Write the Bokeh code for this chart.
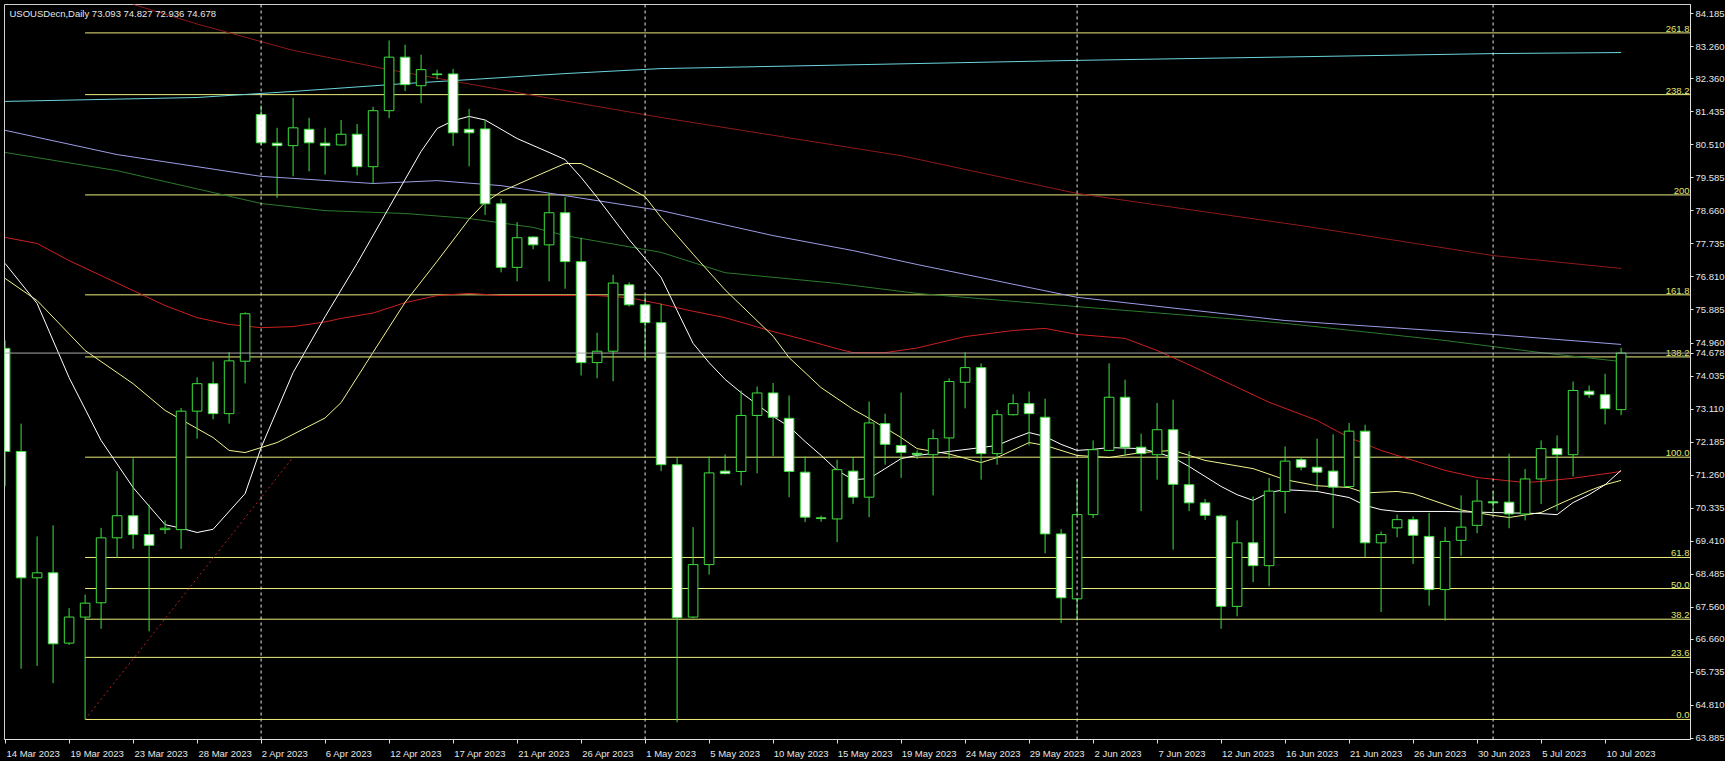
from bokeh.plotting import figure
from bokeh.models import FixedTicker, Span, NumeralTickFormatter, Range1d
from bokeh.embed import file_html
from bokeh.resources import INLINE
from bokeh.core.properties import value

# ---------------- data ----------------
tick_bars = [0, 4, 8, 12, 16, 20, 24, 28, 32, 36, 40, 44, 48, 52, 56, 60, 64, 68, 72, 76, 80, 84, 88, 92, 96, 100]
tick_labels = ["14 Mar 2023", "19 Mar 2023", "23 Mar 2023", "28 Mar 2023", "2 Apr 2023", "6 Apr 2023",
               "12 Apr 2023", "17 Apr 2023", "21 Apr 2023", "26 Apr 2023", "1 May 2023", "5 May 2023",
               "10 May 2023", "15 May 2023", "19 May 2023", "24 May 2023", "29 May 2023", "2 Jun 2023",
               "7 Jun 2023", "12 Jun 2023", "16 Jun 2023", "21 Jun 2023", "26 Jun 2023", "30 Jun 2023",
               "5 Jul 2023", "10 Jul 2023"]
month_separator_bars = [16, 40, 67, 93]

opens = [74.81, 71.92, 68.38, 68.52, 66.55, 67.28, 67.68, 69.50, 70.12, 69.59,
         69.73, 69.73, 73.05, 73.82, 72.98, 74.45, 81.36, 80.56, 80.49, 80.95,
         80.56, 80.51, 80.81, 79.90, 81.47, 82.97, 82.17, 82.50, 82.50, 80.95,
         80.96, 78.86, 77.08, 77.93, 77.71, 78.61, 77.24, 74.41, 74.73, 76.59,
         76.03, 75.53, 71.55, 67.28, 68.75, 71.37, 71.36, 72.93, 73.56, 72.85,
         71.34, 70.06, 70.03, 71.37, 70.64, 72.70, 72.09, 71.87, 71.83, 72.30,
         73.86, 74.27, 71.86, 72.95, 73.26, 72.88, 69.61, 67.79, 70.15, 71.95,
         73.44, 72.04, 71.83, 72.53, 70.99, 70.48, 70.11, 67.58, 69.36, 68.72,
         70.80, 71.69, 71.48, 71.37, 70.94, 72.49, 69.36, 69.78, 70.01, 69.54,
         68.05, 69.43, 69.85, 70.51, 70.50, 70.17, 71.15, 72.00, 71.83, 73.61,
         73.51, 73.093]
highs = [75.03, 72.70, 69.54, 69.85, 67.53, 67.91, 69.78, 71.37, 71.73, 70.43,
         69.99, 73.14, 74.00, 74.44, 74.70, 75.82, 81.62, 80.99, 81.83, 81.27,
         80.99, 81.21, 81.10, 81.58, 83.44, 83.32, 83.04, 82.62, 82.64, 81.52,
         81.21, 79.00, 78.35, 77.95, 79.16, 79.05, 77.91, 75.25, 76.87, 76.66,
         76.29, 76.06, 71.74, 69.80, 71.78, 71.84, 73.63, 73.74, 73.84, 73.49,
         71.78, 70.12, 71.69, 71.76, 73.32, 72.98, 73.57, 71.95, 72.54, 73.97,
         74.70, 74.39, 73.09, 73.52, 73.60, 73.40, 69.75, 71.15, 72.23, 74.39,
         73.93, 72.42, 73.28, 73.37, 71.93, 70.59, 70.15, 69.99, 70.66, 71.18,
         72.06, 71.76, 72.28, 72.40, 72.72, 72.67, 69.68, 70.15, 70.10, 70.20,
         69.80, 70.69, 71.13, 70.81, 71.86, 71.43, 72.23, 72.37, 73.88, 73.77,
         74.10, 74.827]
lows = [70.95, 65.83, 65.91, 65.43, 66.50, 64.41, 66.95, 68.94, 69.19, 66.88,
        69.61, 69.19, 72.28, 72.82, 72.70, 73.83, 80.50, 79.03, 79.63, 79.77,
        79.68, 80.49, 79.66, 79.42, 81.26, 82.02, 81.68, 82.35, 80.48, 79.91,
        78.55, 76.94, 76.69, 77.59, 76.69, 76.48, 74.05, 73.97, 73.89, 75.98,
        74.47, 71.37, 64.33, 67.25, 68.47, 71.28, 70.97, 71.31, 71.79, 70.64,
        69.94, 69.95, 69.38, 70.45, 70.08, 71.55, 71.18, 71.71, 70.69, 71.71,
        73.13, 71.13, 71.55, 72.93, 72.09, 69.07, 67.11, 67.18, 70.06, 71.93,
        71.81, 70.25, 71.13, 69.17, 70.25, 70.00, 66.95, 67.30, 68.26, 68.14,
        70.19, 71.39, 70.83, 69.77, 70.90, 68.96, 67.42, 69.52, 68.77, 67.60,
        67.18, 69.00, 69.63, 70.17, 69.77, 69.99, 70.45, 70.27, 71.22, 73.42,
        72.68, 72.936]
closes = [71.92, 68.38, 68.52, 66.53, 67.28, 67.67, 69.50, 70.12, 69.59, 69.29,
          69.77, 73.05, 73.82, 72.98, 74.46, 75.78, 80.57, 80.49, 80.99, 80.57,
          80.49, 80.81, 79.90, 81.47, 82.97, 82.20, 82.62, 82.48, 80.85, 80.85,
          78.86, 77.08, 77.91, 77.71, 78.61, 77.24, 74.41, 74.73, 76.64, 76.03,
          75.53, 71.55, 67.26, 68.75, 71.32, 71.30, 72.93, 73.56, 72.88, 71.36,
          70.08, 70.04, 71.41, 70.64, 72.72, 72.12, 71.89, 71.83, 72.28, 73.88,
          74.27, 71.86, 72.95, 73.26, 72.98, 69.61, 67.82, 70.15, 71.97, 73.44,
          72.04, 71.86, 72.53, 71.00, 70.48, 70.13, 67.58, 69.36, 68.72, 70.81,
          71.65, 71.48, 71.34, 70.92, 72.49, 69.36, 69.59, 70.01, 69.57, 68.05,
          69.40, 69.80, 70.53, 70.48, 70.17, 71.15, 72.00, 71.83, 73.63, 73.51,
          73.12, 74.678]

ma_white_bars = [0, 2, 4, 6, 8, 10, 11, 12, 13, 15, 16, 18, 20, 22, 24, 26, 27, 28, 29, 30, 32, 34, 35, 36,
                 37, 38, 39, 40, 41, 42, 43, 44, 45, 46, 47, 48, 49, 50, 51, 52, 53, 54, 55, 56, 57, 59,
                 61, 62, 63, 64, 65, 66, 67, 68, 69, 71, 72, 73, 74, 75, 76, 77, 78, 79, 80, 82, 84, 85,
                 86, 87, 90, 93, 96, 97, 98, 99, 100, 101]
ma_white = [77.19, 76.07, 73.99, 72.23, 70.91, 69.87, 69.77, 69.65, 69.74, 70.74, 72.03, 74.13, 75.70,
            77.19, 78.76, 80.33, 80.97, 81.19, 81.31, 81.21, 80.69, 80.30, 80.10, 79.60, 79.04, 78.45,
            77.86, 77.33, 76.80, 75.87, 74.95, 74.41, 73.94, 73.57, 73.24, 72.90, 72.62, 72.20, 71.81,
            71.39, 71.13, 71.16, 71.44, 71.72, 71.81, 71.92, 72.03, 72.09, 72.28, 72.45, 72.34, 72.12,
            71.95, 71.98, 72.03, 72.00, 71.89, 71.75, 71.50, 71.22, 70.94, 70.71, 70.55, 70.77, 70.85,
            70.80, 70.63, 70.41, 70.29, 70.24, 70.24, 70.21, 70.18, 70.15, 70.49, 70.71, 70.99, 71.39]

ma_yellow_bars = [0, 2, 5, 8, 10, 13, 14, 15, 17, 18, 20, 21, 23, 25, 27, 29, 30, 31, 33, 35, 36, 38, 40,
                  41, 43, 45, 48, 49, 51, 53, 54, 55, 56, 57, 59, 61, 62, 64, 65, 67, 69, 71, 73, 75, 78,
                  80, 82, 84, 85, 87, 88, 91, 93, 94, 96, 97, 99, 100, 101]
ma_yellow = [76.77, 76.15, 74.75, 73.82, 73.07, 72.31, 71.95, 71.89, 72.17, 72.40, 72.86, 73.29, 74.70,
             76.10, 77.25, 78.43, 78.90, 79.20, 79.60, 79.99, 79.99, 79.55, 79.06, 78.48, 77.45, 76.45,
             75.15, 74.55, 73.71, 73.10, 72.85, 72.58, 72.31, 72.00, 71.85, 71.61, 71.75, 72.17, 72.09,
             71.81, 71.75, 71.89, 71.95, 71.67, 71.44, 71.13, 70.96, 70.91, 70.76, 70.80, 70.74, 70.28,
             70.13, 70.07, 70.21, 70.42, 70.82, 70.99, 71.11]

ma_red_bars = [0, 2, 4, 6, 8, 10, 12, 14, 16, 18, 20, 21, 23, 25, 27, 29, 31, 34, 37, 39, 41, 43, 45, 48,
               50, 52, 53, 55, 57, 60, 63, 65, 67, 70, 72, 74, 77, 79, 82, 84, 86, 88, 90, 92, 95, 96,
               98, 101]
ma_red = [77.92, 77.75, 77.27, 76.85, 76.43, 76.01, 75.67, 75.48, 75.39, 75.42, 75.55, 75.65, 75.80,
          76.09, 76.29, 76.35, 76.29, 76.29, 76.29, 76.23, 76.05, 75.85, 75.67, 75.28, 75.05, 74.80,
          74.69, 74.69, 74.82, 75.14, 75.31, 75.37, 75.20, 75.09, 74.75, 74.35, 73.72, 73.30, 72.79,
          72.31, 71.95, 71.67, 71.39, 71.19, 71.05, 71.08, 71.17, 71.36]

ma_darkred_bars = [8, 12, 18, 24, 33, 41, 56, 67, 81, 93, 101]
ma_darkred = [84.45, 83.90, 83.16, 82.62, 81.90, 81.28, 80.21, 79.15, 78.25, 77.41, 77.05]

ma_lavender_bars = [0, 7, 16, 23, 27, 31, 35, 41, 48, 53, 57, 67, 80, 93, 101]
ma_lavender = [80.92, 80.24, 79.63, 79.43, 79.51, 79.37, 79.09, 78.67, 77.97, 77.55, 77.16, 76.24,
               75.59, 75.20, 74.92]

ma_green_bars = [0, 7, 16, 20, 25, 29, 33, 35, 41, 45, 52, 57, 67, 78, 80, 90, 96, 101]
ma_green = [80.30, 79.79, 78.87, 78.67, 78.59, 78.45, 78.20, 77.97, 77.50, 76.93, 76.63, 76.35, 75.98,
            75.59, 75.51, 75.03, 74.69, 74.44]

ma_cyan_bars = [0, 12, 18, 25, 29, 35, 41, 67, 93, 101]
ma_cyan = [81.73, 81.84, 82.01, 82.23, 82.34, 82.51, 82.65, 82.88, 83.07, 83.10]

fib_labels = ["0.0", "23.6", "38.2", "50.0", "61.8", "100.0", "138.2", "161.8", "200", "238.2", "261.8"]
fib_prices = [64.41, 66.15, 67.22, 68.08, 68.95, 71.76, 74.57, 76.31, 79.11, 81.92, 83.65]
fib_anchor_bars = [5, 18]
fib_anchor_prices = [64.41, 71.76]

y_ticks = [63.885, 64.810, 65.735, 66.660, 67.560, 68.485, 69.410, 70.335, 71.260, 72.185, 73.110,
           74.035, 74.960, 75.885, 76.810, 77.735, 78.660, 79.585, 80.510, 81.435, 82.360, 83.260, 84.185]

symbol = "USOUSDecn,Daily"
last_price = 74.678

# ---------------- style / layout ----------------
BG = "#000000"
GREEN = "#3ee03e"
FONT = "Liberation Sans"
FS = "9.5px"
TXT = "#e6e6e6"

FRAME_W = 1686
FRAME_H = 735
BAR_PX = 16.0
x_lo = -0.0375
x_hi = x_lo + FRAME_W / BAR_PX
y_lo, y_hi = 63.849, 84.446

p = figure(frame_width=FRAME_W, frame_height=FRAME_H,
           x_range=Range1d(x_lo, x_hi), y_range=Range1d(y_lo, y_hi),
           output_backend="svg", toolbar_location=None, y_axis_location="right",
           background_fill_color=BG, border_fill_color=BG,
           min_border_left=4, min_border_top=4, min_border_right=35, min_border_bottom=18)
p.title.visible = False
p.outline_line_color = "#d0d0d0"
p.grid.visible = False

# y axis (right)
ya = p.yaxis[0]
ya.ticker = FixedTicker(ticks=y_ticks + [last_price])
ya.formatter = NumeralTickFormatter(format="0.000")
ya.axis_line_color = "#e0e0e0"
ya.major_tick_line_color = "#e0e0e0"
ya.major_tick_out = 3
ya.major_tick_in = 0
ya.minor_tick_line_color = None
ya.major_label_standoff = 2
ya.major_label_text_font = FONT
ya.major_label_text_font_size = FS
ya.major_label_text_color = TXT

# x axis: tick marks drawn as minor ticks at the bar positions, labels start at the tick
cw = {" ": 0.278, "M": 0.833, "a": 0.556, "r": 0.333, "A": 0.667, "p": 0.556, "y": 0.5,
      "J": 0.5, "u": 0.556, "n": 0.556, "l": 0.222}
def text_px(s):
    return sum(cw.get(ch, 0.556) for ch in s) * 9.5
label_centers = [b + round(1 + text_px(s) / 2) / BAR_PX for b, s in zip(tick_bars, tick_labels)]
xa = p.xaxis[0]
xa.ticker = FixedTicker(ticks=label_centers, minor_ticks=tick_bars)
xa.major_label_overrides = {c: s for c, s in zip(label_centers, tick_labels)}
xa.major_tick_line_color = None
xa.major_tick_out = 0
xa.major_tick_in = 0
xa.minor_tick_line_color = "#e0e0e0"
xa.minor_tick_out = 4
xa.minor_tick_in = 0
xa.axis_line_color = "#e0e0e0"
xa.major_label_standoff = 4
xa.major_label_text_font = FONT
xa.major_label_text_font_size = FS
xa.major_label_text_color = TXT

# month separators
for b in month_separator_bars:
    p.add_layout(Span(location=b, dimension="height", line_color="#e8e8e8", line_dash="3 3", line_width=1))

# fibonacci levels
n_f = len(fib_prices)
p.segment(x0=[fib_anchor_bars[0]] * n_f, x1=[200] * n_f, y0=fib_prices, y1=fib_prices,
          line_color="#ecec7c", line_width=1)
p.text(x=[x_hi - 1 / BAR_PX] * n_f, y=fib_prices, text=fib_labels,
       text_align="right", text_baseline="bottom", y_offset=-1,
       text_color="#e4e46a", text_font=value(FONT), text_font_size=FS)
p.line(fib_anchor_bars, fib_anchor_prices, line_color="#b42020", line_dash="2 3", line_width=1)

# bid line
p.add_layout(Span(location=last_price, dimension="width", line_color="#a8a8a8", line_width=1))

# moving averages
p.line(ma_cyan_bars, ma_cyan, line_color="#6ad4dc", line_width=1)
p.line(ma_darkred_bars, ma_darkred, line_color="#8e1a1a", line_width=1)
p.line(ma_lavender_bars, ma_lavender, line_color="#9c9ce6", line_width=1)
p.line(ma_green_bars, ma_green, line_color="#2c7a2c", line_width=1)
p.line(ma_red_bars, ma_red, line_color="#cc2020", line_width=1)
p.line(ma_yellow_bars, ma_yellow, line_color="#f2f28e", line_width=1)
p.line(ma_white_bars, ma_white, line_color="#ffffff", line_width=1)

# candles: bull = black body, bear = white body, green outline and wick
idx = list(range(len(opens)))
tops = [max(o, c) for o, c in zip(opens, closes)]
bots = [min(o, c) for o, c in zip(opens, closes)]
fills = ["#000000" if c >= o else "#ffffff" for o, c in zip(opens, closes)]
p.segment(x0=idx, x1=idx, y0=lows, y1=highs, line_color=GREEN, line_width=1)
p.vbar(x=idx, width=0.6, top=tops, bottom=bots, fill_color=fills, line_color=GREEN, line_width=1)

# header
header = f"{symbol}  {opens[-1]:.3f} {highs[-1]:.3f} {lows[-1]:.3f} {closes[-1]:.3f}"
p.text(x=[0.275], y=[84.185], text=[header], text_align="left", text_baseline="middle",
       text_color=TXT, text_font=value(FONT), text_font_size=FS)

html = file_html(p, INLINE)
html = html.replace("<head>", "<head><style>body{background:#000000;}</style>", 1)
open("out.html", "w").write(html)
